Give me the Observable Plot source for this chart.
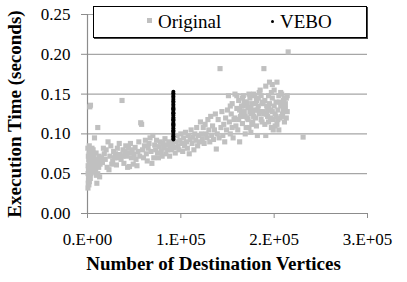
<!DOCTYPE html>
<html>
<head>
<meta charset="utf-8">
<script src="https://cdn.jsdelivr.net/npm/d3@7"></script>
<script src="https://cdn.jsdelivr.net/npm/@observablehq/plot@0.6"></script>
<style>
  html, body { margin: 0; padding: 0; background: #fff; }
  #wrap { position: relative; width: 407px; height: 282px; font-family: "Liberation Serif", "Times New Roman", serif; }
  #wrap svg, #wrap svg text { font-family: "Liberation Serif", "Times New Roman", serif !important; }
  #legend { position: absolute; left: 93px; top: 6px; width: 272px; height: 30px; border: 1px solid #000; box-shadow: 1px 1px 0 #444; background: #fff; font-size: 19px; font-family: "Liberation Serif", serif; }
  #legend .item { position: absolute; top: 3px; line-height: 24px; white-space: nowrap; }
  #legend .sq { display: inline-block; width: 5px; height: 5px; background: #c0c0c0; vertical-align: middle; margin-right: 6px; position: relative; top: -3px; }
  #legend .dt { display: inline-block; width: 3px; height: 3px; border-radius: 50%; background: #000; vertical-align: middle; margin-right: 6px; position: relative; top: -2px; }
</style>
</head>
<body>
<div id="wrap"></div>
<script>
// ---- data ----
const seriesNames = ["Original", "VEBO"];
const xTicks = [0, 100000, 200000, 300000];
const xTickLabels = ["0.E+00", "1.E+05", "2.E+05", "3.E+05"];
const yTicks = [0, 0.05, 0.10, 0.15, 0.20, 0.25];
const xTitle = "Number of Destination Vertices";
const yTitle = "Execution Time (seconds)";

// Original: [destination vertices in thousands, seconds]
const originalPoints = [
  [0.5,0.032],[0.8,0.038],[1,0.042],[1.2,0.045],[0.6,0.05],[1.5,0.048],[2,0.052],[1,0.055],[2.5,0.057],[0.7,0.06],
  [1.8,0.062],[3,0.06],[2.2,0.065],[1.3,0.068],[3.5,0.066],[0.9,0.072],[2.8,0.07],[4,0.063],[1.6,0.075],[3.2,0.074],
  [4.5,0.068],[2.4,0.078],[0.4,0.082],[1.9,0.085],[5,0.06],[5.5,0.064],[6,0.058],[4.2,0.055],[3.6,0.05],[5.2,0.07],
  [6.5,0.066],[7,0.062],[7.5,0.057],[6.8,0.072],[8,0.068],[8.5,0.06],[9,0.065],[5.8,0.076],[3,0.044],[2,0.04],
  [1.5,0.036],[7.2,0.052],[8.8,0.055],[9.5,0.048],[10,0.038],[13,0.046],[11,0.05],[12,0.058],[10.5,0.062],[11.5,0.068],
  [13.5,0.062],[12.5,0.072],[2.5,0.134],[3.2,0.136],[11,0.108],[7.5,0.095],[6,0.08],[4.8,0.082],[9.2,0.076],[14,0.066],
  [15,0.07],[16,0.064],
  [18,0.075],[20,0.08],[22,0.09],[24,0.072],[25,0.085],[27,0.066],[28,0.078],[30,0.075],[31,0.061],[32,0.082],
  [33,0.07],[34,0.088],[35,0.074],[36,0.068],[37,0.142],[38,0.08],[39,0.063],[40,0.078],[41,0.085],[42,0.072],
  [43,0.058],[44,0.082],[45,0.076],[46,0.088],[47,0.07],[48,0.08],[49,0.062],[50,0.074],[51,0.083],[52,0.068],
  [54,0.078],[55,0.09],[56,0.072],[57,0.114],[58,0.112],[59,0.08],[60,0.07],[61,0.085],[62,0.092],[63,0.075],
  [64,0.066],[65,0.082],[66,0.088],[67,0.095],[68,0.078],[69,0.063],[70,0.098],[71,0.07],[72,0.086],[73,0.08],
  [74,0.092],[75,0.076],[76,0.07],[77,0.084],[78,0.09],[79,0.078],[80,0.072],[81,0.088],[82,0.082],[83,0.094],
  [84,0.075],[85,0.086],[86,0.08],[87,0.09],[88,0.072],[89,0.085],[26,0.062],[23,0.055],[19,0.068],[21,0.058],
  [29,0.07],[53,0.06],[45,0.059],[38,0.072],[17,0.082],
  [90,0.08],[91,0.088],[92,0.095],[93,0.083],[94,0.076],[95,0.09],[96,0.098],[97,0.085],[98,0.08],[99,0.092],
  [100,0.1],[101,0.088],[102,0.078],[103,0.095],[104,0.085],[105,0.102],[106,0.09],[107,0.082],[108,0.098],[109,0.075],
  [110,0.093],[111,0.105],[112,0.088],[113,0.096],[114,0.08],[115,0.1],[116,0.092],[117,0.108],[118,0.085],[119,0.098],
  [120,0.09],[121,0.115],[122,0.1],[123,0.094],[124,0.108],[125,0.088],[126,0.112],[127,0.1],[128,0.095],[129,0.118],
  [130,0.105],[131,0.09],[132,0.122],[133,0.098],[134,0.11],[135,0.093],[136,0.105],[137,0.125],[138,0.081],[139,0.1],
  [140,0.118],[141,0.095],[142,0.182],[143,0.108],[144,0.128],[145,0.098],[146,0.112],[147,0.09],[148,0.12],[149,0.105],
  [150,0.13],[151,0.148],[152,0.115],[153,0.1],[154,0.125],[155,0.138],[156,0.095],[157,0.118],[158,0.15],[159,0.11],
  [160,0.132],[161,0.105],[162,0.142],[163,0.09],[164,0.122],[165,0.135],[166,0.113],[167,0.148],[168,0.128],[169,0.1],
  [170,0.14],[171,0.12],[172,0.133],[173,0.108],[174,0.145],[175,0.125],[176,0.138],[177,0.115],[178,0.15],[179,0.13],
  [180,0.12],[181,0.142],[182,0.098],[183,0.135],[184,0.125],[185,0.155],[186,0.118],[187,0.14],[188,0.128],[189,0.182],
  [190,0.112],[191,0.16],[192,0.135],[193,0.122],[194,0.148],[195,0.165],[196,0.13],[197,0.108],[198,0.145],[199,0.118],
  [200,0.135],[201,0.125],[202,0.14],[203,0.112],[204,0.13],[205,0.148],[206,0.12],[207,0.135],[208,0.15],[209,0.125],
  [210,0.142],[211,0.115],[212,0.132],[213,0.145],[214,0.128],[215,0.203],[231,0.096],
  [165,0.125],[168,0.14],[172,0.118],[175,0.132],[178,0.122],[180,0.138],[183,0.145],[185,0.128],[187,0.115],[190,0.142],
  [192,0.125],[195,0.138],[197,0.152],[199,0.105],[201,0.11],[204,0.118],[206,0.14],[208,0.122],[210,0.13],[212,0.138],
  [170,0.108],[175,0.102],[160,0.148],[163,0.13],[158,0.12],[155,0.108],[153,0.135],[177,0.128],[182,0.13],[188,0.138],
  [193,0.13],[196,0.12],[200,0.155],[203,0.165],[186,0.148],[179,0.148],[173,0.15],[167,0.135],[162,0.118],
  [181,0.11],[184,0.152],[191,0.098],[194,0.132],[198,0.128],[202,0.122],[205,0.105],[207,0.152],[211,0.145],[213,0.12],
  [166,0.145],[169,0.122],[171,0.138],[174,0.128],[176,0.112],[189,0.125],[194,0.115],[198,0.162],[209,0.138],[214,0.148]
];

// VEBO: all partitions have the same number of destination vertices
const veboX = 92000;
const veboY = [0.093,0.095,0.097,0.099,0.101,0.103,0.105,0.107,0.109,0.111,0.113,0.115,0.117,0.119,0.121,0.123,
  0.125,0.127,0.129,0.131,0.133,0.135,0.137,0.139,0.141,0.143,0.145,0.147,0.149,0.151,0.153,0.104,0.112,0.118,0.126,0.132];

// ---- chart ----
const orig = originalPoints.map(([xk, y]) => ({x: xk * 1000, y}));
const vebo = veboY.map(y => ({x: veboX, y}));

const chart = Plot.plot({
  width: 407,
  height: 282,
  marginLeft: 87,
  marginRight: 40,
  marginTop: 14,
  marginBottom: 69,
  style: "font-family: 'Liberation Serif', 'Times New Roman', serif; background: #fff; color: #000; overflow: visible;",
  x: {domain: [0, 300000]},
  y: {domain: [0, 0.25]},
  marks: [
    Plot.gridY(yTicks.slice(1), {stroke: "#a6a6a6", strokeOpacity: 1, strokeWidth: 1.2}),
    Plot.ruleX([0], {y1: 0, y2: 0.25, stroke: "#8c8c8c", strokeWidth: 1.2}),
    Plot.ruleY([0], {stroke: "#8c8c8c", strokeWidth: 1.2}),
    Plot.axisY({ticks: yTicks, tickFormat: d3.format(".2f"), tickSize: 6, tickPadding: 11, fontSize: 17, stroke: "#8c8c8c", fill: "#000", label: null}),
    Plot.axisX({ticks: xTicks, tickFormat: d => xTickLabels[xTicks.indexOf(d)], tickSize: 5, tickPadding: 14, fontSize: 17, stroke: "#8c8c8c", fill: "#000", label: null}),
    Plot.dot(orig, {x: "x", y: "y", symbol: "square", r: 2.9, fill: "#c0c0c0", stroke: "none"}),
    Plot.dot(vebo, {x: "x", y: "y", r: 2, fill: "#000", stroke: "none"}),
    Plot.text([yTitle], {frameAnchor: "left", textAnchor: "middle", lineAnchor: "middle", rotate: -90, dx: -73, fontSize: 19, fontWeight: "bold", fill: "#000"}),
    Plot.text([xTitle], {frameAnchor: "bottom", textAnchor: "middle", lineAnchor: "middle", dx: -14, dy: 50, fontSize: 19, fontWeight: "bold", fill: "#000"})
  ]
});

const wrap = document.getElementById("wrap");
wrap.appendChild(chart);
const legend = document.createElement("div");
legend.id = "legend";
legend.innerHTML =
  `<span class="item" style="left:53px"><span class="sq"></span>${seriesNames[0]}</span>` +
  `<span class="item" style="left:177px"><span class="dt"></span>${seriesNames[1]}</span>`;
wrap.appendChild(legend);
</script>
</body>
</html>
